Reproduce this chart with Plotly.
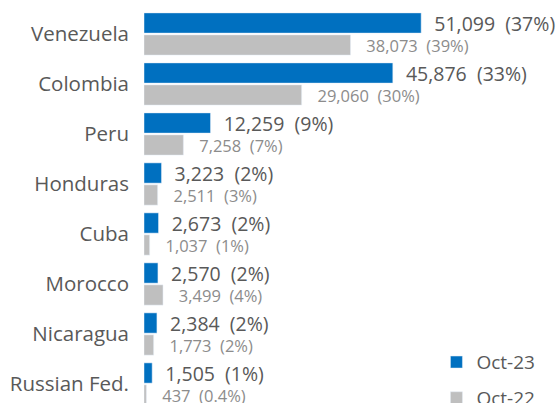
import plotly.graph_objects as go

categories = ["Venezuela", "Colombia", "Peru", "Honduras", "Cuba", "Morocco", "Nicaragua", "Russian Fed."]
oct23 = [51099, 45876, 12259, 3223, 2673, 2570, 2384, 1505]
oct23_pct = ["37%", "33%", "9%", "2%", "2%", "2%", "2%", "1%"]
oct22 = [38073, 29060, 7258, 2511, 1037, 3499, 1773, 437]
oct22_pct = ["39%", "30%", "7%", "3%", "1%", "4%", "2%", "0.4%"]

NB = "\u00a0"
def lab(v, p, pad, mid):
    return NB * pad + f"{v:,}" + NB * mid + f"({p})"

FONT = "Open Sans"

fig = go.Figure()
fig.add_trace(go.Bar(
    y=categories, x=oct23, orientation="h", name="Oct-23",
    marker=dict(color="#0070C0"), legendgroup="a",
    text=[lab(v, p, 2, 2) for v, p in zip(oct23, oct23_pct)],
    textposition="outside", constraintext="none", cliponaxis=False,
    textfont=dict(family=FONT, size=19.5, color="#595959"),
))
fig.add_trace(go.Bar(
    y=categories, x=oct22, orientation="h", name="Oct-22",
    marker=dict(color="#BFBFBF"), legendgroup="b",
    text=[lab(v, p, 3, 2) for v, p in zip(oct22, oct22_pct)],
    textposition="outside", constraintext="none", cliponaxis=False,
    textfont=dict(family=FONT, size=16.5, color="#8C8C8C"),
))

fig.update_layout(
    width=560, height=403,
    margin=dict(l=144, r=0, t=9, b=0, autoexpand=False),
    paper_bgcolor="white", plot_bgcolor="white",
    barmode="group", bargap=0.12, bargroupgap=0.08,
    font=dict(family=FONT, color="#595959"),
    showlegend=True,
    legend=dict(
        x=0.703, y=-0.036, xanchor="left", yanchor="bottom",
        traceorder="grouped", tracegroupgap=8,
        font=dict(family=FONT, size=19, color="#595959"),
        bgcolor="rgba(0,0,0,0)",
    ),
    xaxis=dict(range=[0, 76700], visible=False, showgrid=False, zeroline=False),
    yaxis=dict(
        type="category", range=[7.38, -0.5], showgrid=False, zeroline=False,
        showline=False, ticks="", ticklabelstandoff=14, automargin=False,
        tickfont=dict(family=FONT, size=20.5, color="#595959"),
    ),
)

fig.write_html(
    "out.html",
    config={"displayModeBar": False},
    post_script="document.body.style.margin='0';document.body.style.overflow='hidden';",
)
